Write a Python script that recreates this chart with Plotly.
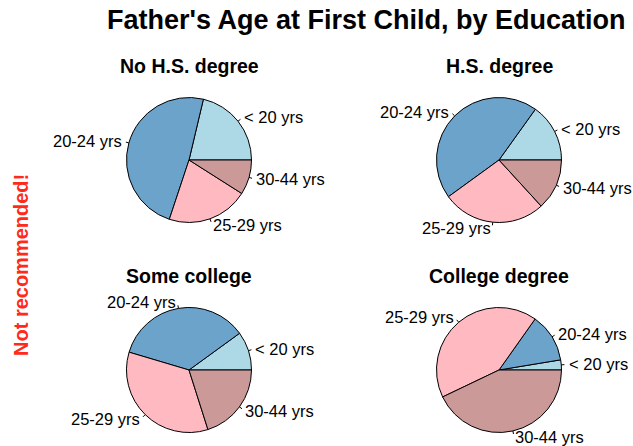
import numpy as np
import plotly.graph_objects as go

W, H = 633, 446

# ---- data (percent of fathers) ----
age_groups = ["< 20 yrs", "20-24 yrs", "25-29 yrs", "30-44 yrs"]
no_hs_degree = [21.3, 48.6, 21.1, 9.0]
hs_degree = [15.1, 44.9, 26.8, 13.2]
some_college = [10.0, 35.4, 34.5, 20.1]
college_degree = [2.6, 12.6, 41.9, 42.9]
panel_titles = ["No H.S. degree", "H.S. degree", "Some college", "College degree"]
main_title = "Father's Age at First Child, by Education"
side_note = "Not recommended!"

# ---- style / layout ----
slice_colors = ["#ADD8E6", "#6BA3CB", "#FFB9C1", "#CC9999"]
centers = [(189, 160), (499, 160), (189, 370), (499, 370)]
R = 62.5
FONT = "Liberation Sans, Arial, Helvetica, sans-serif"

panels = [no_hs_degree, hs_degree, some_college, college_degree]

fig = go.Figure()
annotations = []
shapes = []

for vals, title, (cx, cy) in zip(panels, panel_titles, centers):
    total = float(sum(vals))
    # plotly (counterclockwise) puts the first slice clockwise of `rotation`;
    # shift so the first slice starts at 3 o'clock and runs counterclockwise (like R's pie)
    rot = 90 - vals[0] / total * 360
    fig.add_trace(go.Pie(
        values=vals, labels=age_groups, sort=False, direction="counterclockwise",
        rotation=rot, textinfo="none", hoverinfo="label+percent",
        marker=dict(colors=slice_colors, line=dict(color="black", width=1)),
        domain=dict(x=[(cx - R) / W, (cx + R) / W], y=[1 - (cy + R) / H, 1 - (cy - R) / H]),
        showlegend=False,
    ))
    cum = np.cumsum([0] + list(vals)) / total * 2 * np.pi
    for i, lab in enumerate(age_groups):
        a = 0.5 * (cum[i] + cum[i + 1])
        ca, sa = np.cos(a), np.sin(a)
        shapes.append(dict(type="line", xref="x", yref="y",
                           x0=cx + R * ca, y0=cy - R * sa,
                           x1=cx + 1.05 * R * ca, y1=cy - 1.05 * R * sa,
                           line=dict(color="black", width=1)))
        annotations.append(dict(x=cx + 1.1 * R * ca, y=cy - 1.1 * R * sa, xref="x", yref="y",
                                text=lab, showarrow=False,
                                xanchor="left" if ca >= 0 else "right", yanchor="middle",
                                borderpad=0,
                                font=dict(family=FONT, size=16.5, color="black")))
    annotations.append(dict(x=cx, y=cy - 94, xref="x", yref="y", text="<b>%s</b>" % title,
                            showarrow=False, xanchor="center", yanchor="middle",
                            font=dict(family=FONT, size=19.5, color="black")))

annotations.append(dict(x=366, y=20, xref="x", yref="y", text="<b>%s</b>" % main_title,
                        showarrow=False, xanchor="center", yanchor="middle",
                        font=dict(family=FONT, size=27, color="black")))
annotations.append(dict(x=21, y=265, xref="x", yref="y", text="<b>%s</b>" % side_note,
                        showarrow=False, textangle=-90, xanchor="center", yanchor="middle",
                        font=dict(family=FONT, size=20, color="#FF2A1A")))

fig.update_layout(
    width=W, height=H, margin=dict(l=0, r=0, t=0, b=0),
    paper_bgcolor="white", plot_bgcolor="white",
    xaxis=dict(range=[0, W], visible=False, fixedrange=True),
    yaxis=dict(range=[H, 0], visible=False, fixedrange=True),
    annotations=annotations, shapes=shapes,
)

fig.write_html("out.html", config={"displayModeBar": False},
               post_script="document.body.style.margin='0';document.body.style.overflow='hidden';")
